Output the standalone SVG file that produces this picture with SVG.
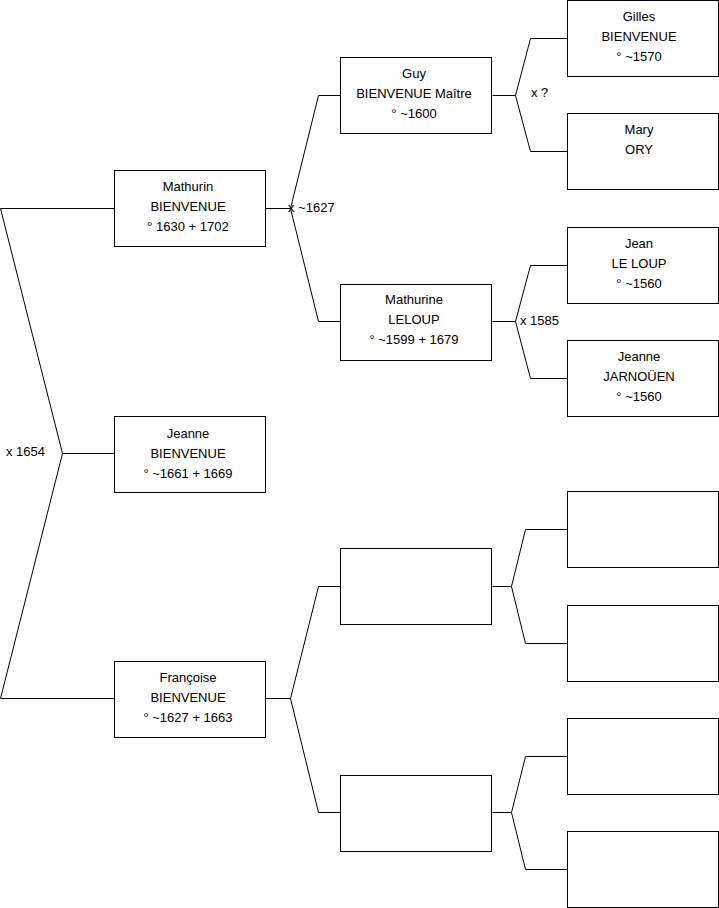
<svg xmlns="http://www.w3.org/2000/svg" width="719" height="908" viewBox="0 0 719 908">
<style>
.box{fill:#fff;stroke:#000;stroke-width:1}
.ln{fill:none;stroke:#000;stroke-width:1}
text{font-family:"Liberation Sans",Arial,sans-serif;font-size:13px;fill:#000}
.c{text-anchor:middle}
</style>
<rect width="719" height="908" fill="#fff"/>
<g id="connectors">
<path class="ln" d="M114.5,453.5H62.5L0.5,208.5H114.5M62.5,453.5L0.5,698.5H114.5"/>
<path class="ln" d="M265.5,208.5H290.5L318.5,95.5H340.5M290.5,208.5L318.5,321.5H340.5"/>
<path class="ln" d="M265.5,698.5H290.5L318.5,586.5H340.5M290.5,698.5L318.5,812.5H340.5"/>
<path class="ln" d="M492.5,95.5H515.5L530.5,38.5H567.5M515.5,95.5L530.5,151.5H567.5"/>
<path class="ln" d="M492.5,321.5H515.5L530.5,265.5H567.5M515.5,321.5L530.5,378.5H567.5"/>
<path class="ln" d="M492.5,586.5H511.5L525.5,529.5H567.5M511.5,586.5L525.5,643.5H567.5"/>
<path class="ln" d="M492.5,812.5H511.5L525.5,756.5H567.5M511.5,812.5L525.5,869.5H567.5"/>
<text x="6" y="456">x 1654</text>
<text x="288" y="212">x ~1627</text>
<text x="531" y="97">x ?</text>
<text x="520" y="325">x 1585</text>
</g>
<g id="mathurin"><rect class="box" x="114.5" y="170.5" width="151" height="76"/>
<text class="c" x="188" y="191">Mathurin</text><text class="c" x="188" y="211">BIENVENUE</text><text class="c" x="188" y="231">° 1630 + 1702</text></g>
<g id="jeanne"><rect class="box" x="114.5" y="416.5" width="151" height="76"/>
<text class="c" x="188" y="438">Jeanne</text><text class="c" x="188" y="458">BIENVENUE</text><text class="c" x="188" y="478">° ~1661 + 1669</text></g>
<g id="francoise"><rect class="box" x="114.5" y="661.5" width="151" height="76"/>
<text class="c" x="188" y="682">Françoise</text><text class="c" x="188" y="702">BIENVENUE</text><text class="c" x="188" y="722">° ~1627 + 1663</text></g>
<g id="guy"><rect class="box" x="340.5" y="57.5" width="151" height="76"/>
<text class="c" x="414" y="78">Guy</text><text class="c" x="414" y="98">BIENVENUE Maître</text><text class="c" x="414" y="118">° ~1600</text></g>
<g id="mathurine"><rect class="box" x="340.5" y="284.5" width="151" height="76"/>
<text class="c" x="414" y="304">Mathurine</text><text class="c" x="414" y="324">LELOUP</text><text class="c" x="414" y="344">° ~1599 + 1679</text></g>
<g id="empty2a"><rect class="box" x="340.5" y="548.5" width="151" height="76"/></g>
<g id="empty2b"><rect class="box" x="340.5" y="775.5" width="151" height="76"/></g>
<g id="gilles"><rect class="box" x="567.5" y="0.5" width="151" height="76"/>
<text class="c" x="639" y="21">Gilles</text><text class="c" x="639" y="41">BIENVENUE</text><text class="c" x="639" y="61">° ~1570</text></g>
<g id="mary"><rect class="box" x="567.5" y="113.5" width="151" height="76"/>
<text class="c" x="639" y="134">Mary</text><text class="c" x="639" y="154">ORY</text></g>
<g id="jean"><rect class="box" x="567.5" y="227.5" width="151" height="76"/>
<text class="c" x="639" y="248">Jean</text><text class="c" x="639" y="268">LE LOUP</text><text class="c" x="639" y="288">° ~1560</text></g>
<g id="jeanne-j"><rect class="box" x="567.5" y="340.5" width="151" height="76"/>
<text class="c" x="639" y="361">Jeanne</text><text class="c" x="639" y="381">JARNOÜEN</text><text class="c" x="639" y="401">° ~1560</text></g>
<g id="empty3a"><rect class="box" x="567.5" y="491.5" width="151" height="76"/></g>
<g id="empty3b"><rect class="box" x="567.5" y="605.5" width="151" height="76"/></g>
<g id="empty3c"><rect class="box" x="567.5" y="718.5" width="151" height="76"/></g>
<g id="empty3d"><rect class="box" x="567.5" y="831.5" width="151" height="76"/></g>
</svg>
